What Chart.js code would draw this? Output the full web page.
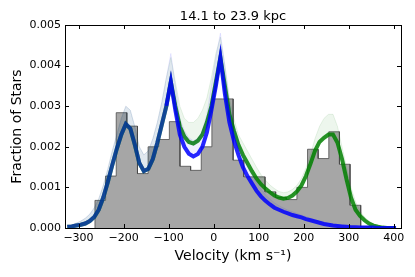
<!DOCTYPE html>
<html>
<head>
<meta charset="utf-8">
<script src="https://cdn.jsdelivr.net/npm/chart.js@4.4.1/dist/chart.umd.min.js"></script>
<style>
  body { margin: 0; background: #fff; }
  #velChart { display: block; }
</style>
</head>
<body>
<canvas id="velChart" width="415" height="277"></canvas>
<script>
// histogram of the observed stars (bin edges and fractions)
const histEdges = [-263.5, -239.9, -216.3, -192.7, -169.1, -145.5, -121.9, -98.3, -74.7, -51.1, -27.5, -3.9,
    19.7, 43.3, 66.9, 90.5, 114.1, 137.7, 161.3, 184.9, 208.5, 232.1, 255.7, 279.3, 302.9, 326.5, 350.1];
const histHeights = [0.00068, 0.00128, 0.00284, 0.00251, 0.00134, 0.0020, 0.00218, 0.00262, 0.00152, 0.00142, 0.0020,
    0.00318, 0.00318, 0.00167, 0.00126, 0.00126, 0.00089, 0.00075, 0.0007, 0.0010, 0.00194, 0.00171, 0.00237,
    0.00157, 0.00056, 0.00004];

// model curves, sampled on a velocity grid
const velocityGrid = [-325, -315, -305, -295, -285, -275, -265, -255, -245, -235, -225, -215, -205, -195, -185,
    -175, -165, -155, -145, -135, -125, -115, -105, -95, -85, -75, -65, -55, -45, -35, -25, -15, -5, 5, 15, 25,
    35, 45, 55, 65, 75, 85, 95, 105, 115, 125, 135, 145, 155, 165, 175, 185, 195, 205, 215, 225, 235, 245, 255,
    265, 275, 285, 295, 305, 315, 325, 335, 345, 355, 365, 375, 385, 395, 405];

const blueMid = [0.00003, 0.00004, 0.00006, 0.00008, 0.00011, 0.00017, 0.00027, 0.00045, 0.00075, 0.00113, 0.00155,
    0.00195, 0.0023, 0.00256, 0.00245, 0.00205, 0.0016, 0.0014, 0.00146, 0.0017, 0.0021, 0.00255, 0.003, 0.0036,
    0.0029, 0.0023, 0.002, 0.00183, 0.00176, 0.00182, 0.002, 0.00235, 0.0029, 0.0035, 0.0042, 0.0033, 0.0026,
    0.00215, 0.0018, 0.0015, 0.00128, 0.0011, 0.00092, 0.00078, 0.00067, 0.00058, 0.0005, 0.00045, 0.0004,
    0.00036, 0.00032, 0.00029, 0.00026, 0.00022, 0.00019, 0.00016, 0.00013, 0.0001, 0.00008, 0.00006, 0.00005,
    0.00004, 0.00003, 0.00002, 0.00002, 0.00001, 0.00001, 0.00001, 0.00001, 0, 0, 0, 0, 0];
const blueHi = [0.00006, 0.00008, 0.00012, 0.00017, 0.00024, 0.00034, 0.0005, 0.00072, 0.00105, 0.00145, 0.0019,
    0.0023, 0.0027, 0.0030, 0.0029, 0.0025, 0.002, 0.0018, 0.0019, 0.0022, 0.0026, 0.0031, 0.0037, 0.0043,
    0.0035, 0.0027, 0.0024, 0.00222, 0.00215, 0.0022, 0.0024, 0.0028, 0.0035, 0.0042, 0.0048, 0.004, 0.0031,
    0.0025, 0.0021, 0.00175, 0.0015, 0.0013, 0.00112, 0.00096, 0.00082, 0.00071, 0.00062, 0.00055, 0.00049,
    0.00044, 0.0004, 0.00036, 0.00032, 0.00028, 0.00024, 0.0002, 0.00017, 0.00014, 0.00011, 0.00009, 0.00007,
    0.00006, 0.00005, 0.00004, 0.00003, 0.00002, 0.00002, 0.00001, 0.00001, 0.00001, 0, 0, 0, 0];

const greenMid = [0.00003, 0.00004, 0.00006, 0.00008, 0.00011, 0.00017, 0.00027, 0.00045, 0.00075, 0.00113, 0.00155,
    0.00195, 0.0023, 0.00256, 0.00245, 0.00205, 0.0016, 0.0014, 0.00146, 0.0017, 0.0021, 0.00255, 0.003, 0.0036,
    0.003, 0.0025, 0.00225, 0.00212, 0.00208, 0.00215, 0.0023, 0.0026, 0.003, 0.0036, 0.0042, 0.0035, 0.0028,
    0.0024, 0.00205, 0.0018, 0.0016, 0.0014, 0.00122, 0.00108, 0.00097, 0.00088, 0.0008, 0.00075, 0.00072,
    0.00074, 0.0008, 0.0009, 0.00105, 0.00128, 0.00158, 0.0019, 0.00212, 0.00222, 0.0023, 0.0023, 0.0021,
    0.0017, 0.0012, 0.00075, 0.00045, 0.0003, 0.00019, 0.00011, 0.00006, 0.00003, 0.00001, 0, 0, 0];
const greenHi = [0.00006, 0.00008, 0.00012, 0.00017, 0.00024, 0.00034, 0.0005, 0.00072, 0.00105, 0.00145, 0.0019,
    0.0023, 0.0027, 0.0030, 0.0029, 0.0025, 0.002, 0.0018, 0.0019, 0.0022, 0.0026, 0.0031, 0.0037, 0.0042,
    0.0036, 0.003, 0.0027, 0.0026, 0.0026, 0.0027, 0.0029, 0.0032, 0.0037, 0.0043, 0.0047, 0.004, 0.0032,
    0.0027, 0.0023, 0.0021, 0.0019, 0.0017, 0.0015, 0.00132, 0.00118, 0.00106, 0.00097, 0.0009, 0.00087,
    0.00089, 0.00095, 0.00105, 0.00122, 0.00148, 0.0018, 0.0022, 0.0025, 0.0027, 0.0028, 0.0028, 0.0025,
    0.002, 0.0015, 0.001, 0.00065, 0.00042, 0.00027, 0.00017, 0.0001, 0.00006, 0.00003, 0.00001, 0, 0];

const titleText = '14.1 to 23.9 kpc';
const FONT = 'DejaVu Sans';

function curve(values) {
    return velocityGrid.map((v, i) => ({ x: v, y: values[i] }));
}

// step outline: up from the baseline, flat across each bin, back down at the end
const histPoints = [{ x: histEdges[0], y: 0 }];
histHeights.forEach((h, i) => {
    histPoints.push({ x: histEdges[i], y: h });
    histPoints.push({ x: histEdges[i + 1], y: h });
});
histPoints.push({ x: histEdges[histEdges.length - 1], y: 0 });

// frame, inward ticks on all four sides and the title
const framePlugin = {
    id: 'frame',
    afterDatasetsDraw(chart) {
        const { ctx, chartArea: a, scales } = chart;
        ctx.save();
        ctx.strokeStyle = '#000';
        ctx.lineWidth = 1;
        ctx.strokeRect(Math.round(a.left) + 0.5, Math.round(a.top) + 0.5,
            Math.round(a.right - a.left), Math.round(a.bottom - a.top));
        ctx.beginPath();
        scales.x.ticks.forEach(t => {
            const px = Math.round(scales.x.getPixelForValue(t.value)) + 0.5;
            ctx.moveTo(px, a.bottom); ctx.lineTo(px, a.bottom - 4);
            ctx.moveTo(px, a.top); ctx.lineTo(px, a.top + 4);
        });
        scales.y.ticks.forEach(t => {
            const py = Math.round(scales.y.getPixelForValue(t.value)) + 0.5;
            ctx.moveTo(a.left, py); ctx.lineTo(a.left + 4, py);
            ctx.moveTo(a.right, py); ctx.lineTo(a.right - 4, py);
        });
        ctx.stroke();
        ctx.fillStyle = '#000';
        ctx.font = '13px "' + FONT + '"';
        ctx.textAlign = 'center';
        ctx.textBaseline = 'alphabetic';
        ctx.fillText(titleText, (a.left + a.right) / 2, a.top - 5);
        ctx.restore();
    }
};

const ctx = document.getElementById('velChart').getContext('2d');
const velChart = new Chart(ctx, {
    type: 'line',
    data: {
        datasets: [
            {
                data: histPoints,
                fill: 'origin',
                backgroundColor: 'rgba(128,128,128,0.7)',
                borderColor: 'rgba(70,70,70,0.75)',
                borderWidth: 1,
                pointRadius: 0,
                tension: 0,
                order: 5
            },
            {
                data: curve(greenHi),
                fill: '+1',
                backgroundColor: 'rgba(0,128,0,0.07)',
                borderColor: 'rgba(0,128,0,0.12)',
                borderWidth: 0.8,
                pointRadius: 0,
                order: 4
            },
            {
                data: curve(greenMid),
                fill: false,
                borderColor: 'rgba(0,128,0,0.85)',
                borderWidth: 4,
                pointRadius: 0,
                order: 3
            },
            {
                data: curve(blueHi),
                fill: '+1',
                backgroundColor: 'rgba(0,0,255,0.06)',
                borderColor: 'rgba(0,0,255,0.1)',
                borderWidth: 0.8,
                pointRadius: 0,
                order: 2
            },
            {
                data: curve(blueMid),
                fill: false,
                borderColor: 'rgba(0,0,255,0.85)',
                segment: {
                    borderColor: c => c.p0.parsed.x < -110 ? 'rgba(0,0,255,0.5)' : 'rgba(0,0,255,0.85)'
                },
                borderWidth: 4,
                pointRadius: 0,
                order: 1
            }
        ]
    },
    options: {
        responsive: false,
        animation: false,
        events: [],
        layout: { padding: { left: 0, right: 14, top: 25, bottom: 0 } },
        plugins: {
            legend: { display: false },
            tooltip: { enabled: false }
        },
        scales: {
            x: {
                type: 'linear',
                min: -330,
                max: 416,
                grid: { display: false, drawTicks: false },
                border: { display: false },
                ticks: {
                    stepSize: 100,
                    includeBounds: false,
                    padding: 4,
                    color: '#000',
                    font: { family: FONT, size: 11 },
                    callback: v => v < 0 ? '\u2212' + Math.abs(v) : String(v)
                },
                title: {
                    display: true,
                    text: 'Velocity (km s\u207B\u00B9)',
                    color: '#000',
                    font: { family: FONT, size: 14 },
                    padding: { top: 0, bottom: 12 }
                },
                afterFit: s => { s.height = 49; }
            },
            y: {
                min: 0,
                max: 0.005,
                grid: { display: false, drawTicks: false },
                border: { display: false },
                ticks: {
                    stepSize: 0.001,
                    padding: 4,
                    color: '#000',
                    font: { family: FONT, size: 11 },
                    callback: v => v.toFixed(3)
                },
                title: {
                    display: true,
                    text: 'Fraction of Stars',
                    color: '#000',
                    font: { family: FONT, size: 14 },
                    padding: { top: 9, bottom: 0 }
                },
                afterFit: s => { s.width = 65; }
            }
        }
    },
    plugins: [framePlugin]
});
</script>
</body>
</html>
